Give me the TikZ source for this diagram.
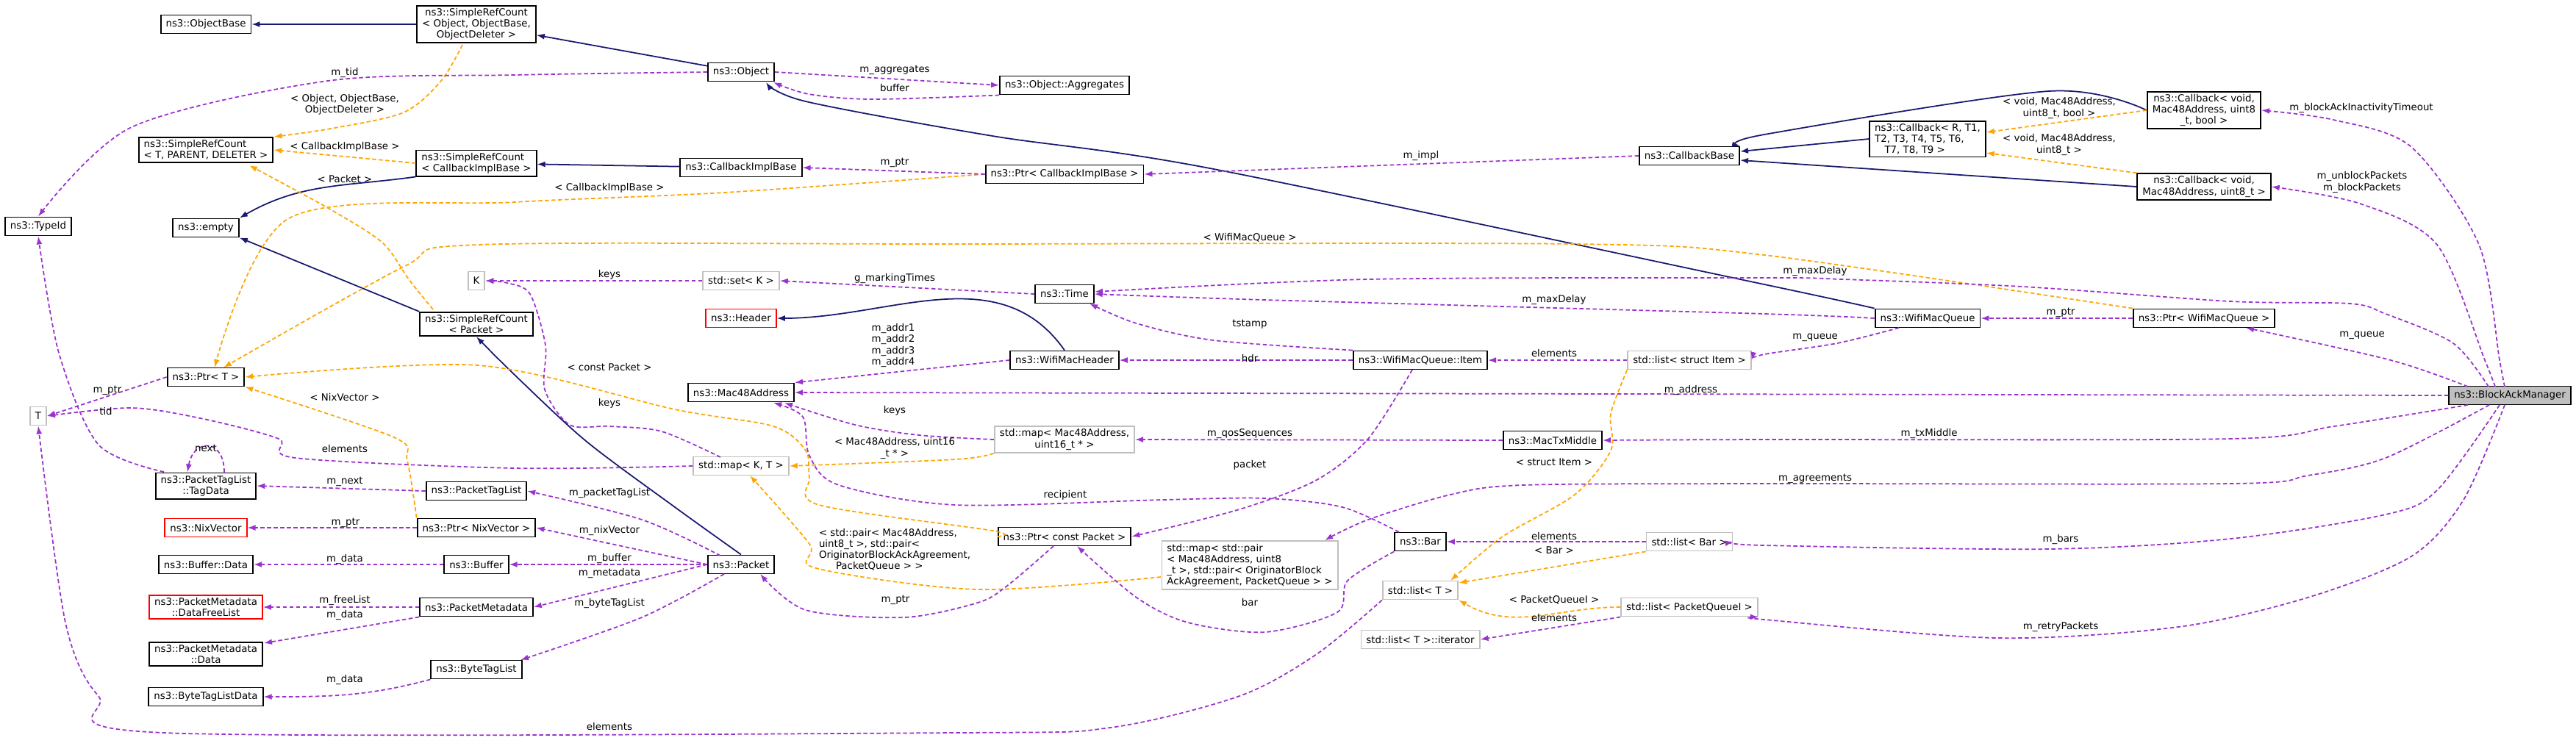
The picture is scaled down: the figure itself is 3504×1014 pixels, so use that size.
\documentclass[tikz,border=0pt]{standalone}
\usepackage{fontspec}
\setmainfont{DejaVu Sans}
\usetikzlibrary{arrows.meta,calc}
\definecolor{navyc}{RGB}{25,25,112}
\definecolor{purc}{RGB}{154,50,205}
\definecolor{orac}{RGB}{255,165,0}
\definecolor{greyc}{RGB}{191,191,191}
\tikzset{
  cls/.style={draw=black,line width=0.55pt,fill=white,inner xsep=0.7mm,inner ysep=0.35mm,minimum height=2.5mm,align=center,font=\fontsize{3.8}{4.3}\selectfont},
  ext/.style={cls,draw=greyc},
  undoc/.style={cls,draw=red},
  lbl/.style={inner sep=0pt,align=center,font=\fontsize{3.8}{4.3}\selectfont},
  inh/.style={navyc,line width=0.5pt,->,>={Latex[length=1.1mm,width=0.8mm]}},
  tpl/.style={orac,line width=0.5pt,dash pattern=on 0.55mm off 0.35mm,->,>={Latex[length=1.1mm,width=0.8mm]}},
  mem/.style={purc,line width=0.5pt,dash pattern=on 0.55mm off 0.35mm,->,>={Latex[length=1.1mm,width=0.8mm]}}
}
\begin{document}
\begin{tikzpicture}[x=0.1mm,y=-0.1mm]
	\useasboundingbox (0,0) rectangle (3504,1014);
	% classes
	\node[cls] (objbase) at (280,33) {ns3::ObjectBase};
	\node[cls] (srcobj) at (648,33) {ns3::SimpleRefCount\\< Object, ObjectBase,\\ ObjectDeleter >};
	\node[cls] (object) at (1008,98) {ns3::Object};
	\node[cls] (aggr) at (1448,116) {ns3::Object::Aggregates};
	\node[cls,align=left] (srctpd) at (280,204) {ns3::SimpleRefCount\\< T, PARENT, DELETER >};
	\node[cls,align=left] (srccb) at (648,222) {ns3::SimpleRefCount\\< CallbackImplBase >};
	\node[cls] (cbimpl) at (1008,228) {ns3::CallbackImplBase};
	\node[cls] (ptrcb) at (1448,237) {ns3::Ptr< CallbackImplBase >};
	\node[cls] (cbbase) at (2298,212) {ns3::CallbackBase};
	\node[cls,align=left] (cbgen) at (2622,189) {ns3::Callback< R, T1,\\T2, T3, T4, T5, T6,\\ \quad T7, T8, T9 >};
	\node[cls] (cbbool) at (2998,150) {ns3::Callback< void,\\ Mac48Address, uint8\\\_t, bool >};
	\node[cls] (cbuint) at (2998,254) {ns3::Callback< void,\\ Mac48Address, uint8\_t >};
	\node[cls] (typeid) at (52,308) {ns3::TypeId};
	\node[cls] (empty) at (280,310) {ns3::empty};
	\node[ext] (kk) at (648,382) {K};
	\node[ext] (setk) at (1008,382) {std::set< K >};
	\node[cls] (srcpkt) at (648,441) {ns3::SimpleRefCount\\< Packet >};
	\node[undoc] (header) at (1008,433) {ns3::Header};
	\node[cls] (time) at (1448,400) {ns3::Time};
	\node[cls] (wmq) at (2622,433) {ns3::WifiMacQueue};
	\node[cls] (ptrwmq) at (2998,433) {ns3::Ptr< WifiMacQueue >};
	\node[cls] (ptrt) at (280,513) {ns3::Ptr< T >};
	\node[ext] (tt) at (52,566) {T};
	\node[cls] (mac) at (1008,534) {ns3::Mac48Address};
	\node[cls] (wmh) at (1448,490) {ns3::WifiMacHeader};
	\node[cls] (item) at (1932,490) {ns3::WifiMacQueue::Item};
	\node[ext] (listitem) at (2298,490) {std::list< struct Item >};
	\node[cls] (tagdata) at (280,661) {ns3::PacketTagList\\::TagData};
	\node[ext] (mapkt) at (1008,634) {std::map< K, T >};
	\node[ext] (mapseq) at (1448,598) {std::map< Mac48Address,\\ uint16\_t * >};
	\node[cls] (mactx) at (2112,599) {ns3::MacTxMiddle};
	\node[cls] (ptl) at (648,668) {ns3::PacketTagList};
	\node[undoc] (nix) at (280,718) {ns3::NixVector};
	\node[cls] (ptrnix) at (648,718) {ns3::Ptr< NixVector >};
	\node[cls] (bufdata) at (280,768) {ns3::Buffer::Data};
	\node[cls] (buffer) at (648,768) {ns3::Buffer};
	\node[cls] (packet) at (1008,768) {ns3::Packet};
	\node[cls] (ptrcp) at (1448,730) {ns3::Ptr< const Packet >};
	\node[ext,align=left] (mapagr) at (1700,769) {std::map< std::pair\\< Mac48Address, uint8\\\_t >, std::pair< OriginatorBlock\\AckAgreement, PacketQueue > >};
	\node[cls] (bar) at (1932,737) {ns3::Bar};
	\node[ext] (listbar) at (2298,737) {std::list< Bar >};
	\node[ext] (listt) at (1932,803) {std::list< T >};
	\node[ext] (listpq) at (2298,826) {std::list< PacketQueueI >};
	\node[ext] (iter) at (1932,870) {std::list< T >::iterator};
	\node[undoc] (freelist) at (280,826) {ns3::PacketMetadata\\::DataFreeList};
	\node[cls] (pm) at (648,826) {ns3::PacketMetadata};
	\node[cls] (pmdata) at (280,890) {ns3::PacketMetadata\\::Data};
	\node[cls] (btl) at (648,911) {ns3::ByteTagList};
	\node[cls] (btld) at (280,948) {ns3::ByteTagListData};
	\node[cls,fill=greyc] (bam) at (3414,538) {ns3::BlockAckManager};
	% inheritance
	\draw[inh] (srcobj) -- (objbase);
	\draw[inh] (object) -- (srcobj);
	\draw[inh] (cbimpl) -- (srccb);
	\draw[inh] (srccb.south west) to[out=188,in=30] (empty.north east);
	\draw[inh] (srcpkt.north west) -- (empty.south east);
	\draw[inh] plot[smooth] coordinates {(packet.north) (918,690) (797,600) (700,510) (srcpkt.south)};
	\draw[inh] plot[smooth] coordinates {(wmq.north west) (2400,387) (1651,230) (1350,185) (1096,138) (1042,112)};
	\draw[inh] plot[smooth] coordinates {(cbbool.west) (2787,124) (2400,183) (cbbase.north east)};
	\draw[inh] (cbgen.west) -- ($(cbbase.east)+(0,-6)$);
	\draw[inh] (cbuint.west) -- ($(cbbase.east)+(0,6)$);
	\draw[inh] (wmh.north) to[out=125,in=0] (header.east);
	% templates
	\draw[tpl] plot[smooth] coordinates {(629,61) (600,110) (549,153) (450,175) (srctpd.north east)};
	\draw[tpl] (srccb.west) -- (srctpd.east);
	\draw[tpl] plot[smooth] coordinates {(589,421) (556,380) (520,330) (446,283) (339,225)};
	\draw[tpl] plot[smooth] coordinates {(ptrcb.west) (985,262) (700,275) (393,297) (292,500)};
	\draw[tpl] plot[smooth] coordinates {(ptrwmq.north west) (2400,347) (2142,332) (1300,332) (650,333) (549,363) (304,500)};
	\draw[tpl] plot[smooth] coordinates {(ptrcp.west) (1350,722) (1114,687) (1101,650) (1096,613) (1052,580) (918,557) (650,497) (ptrt.east)};
	\draw[tpl] plot[smooth] coordinates {(ptrnix.north west) (554,627) (536,595) (ptrt.south east)};
	\draw[tpl] plot[smooth] coordinates {(mapseq.south west) (1300,625) (mapkt.east)};
	\draw[tpl] plot[smooth] coordinates {(1579,785) (1330,802) (1110,773) (1101,740) (1020,647)};
	\draw[tpl] (cbbool.west) -- ($(cbgen.east)+(0,-9)$);
	\draw[tpl] (cbuint.north west) -- ($(cbgen.east)+(0,19)$);
	\draw[tpl] plot[smooth] coordinates {(listitem.south west) (2191,563) (2191,613) (2142,673) (2044,730) (1973,790)};
	\draw[tpl] (listbar.south west) -- ($(listt.east)+(0,-10)$);
	\draw[tpl] (listpq.west) to[out=180,in=-30] (listt.south east);
	% members
	\draw[mem] plot[smooth] coordinates {(object.west) (700,102) (446,110) (179,173) (typeid.north)};
	\draw[mem] (object.east) -- (aggr.west);
	\draw[mem] plot[smooth] coordinates {(aggr.south west) (1186,135) (1100,128) (1052,112)};
	\draw[mem] (ptrcb.west) -- (cbimpl.east);
	\draw[mem] (cbbase.west) -- (ptrcb.east);
	\draw[mem] (setk) -- (kk);
	\draw[mem] (time.west) -- (setk.east);
	\draw[mem] (ptrt.west) -- (tt.east);
	\draw[mem] plot[smooth] coordinates {(223,642) (134,605) (80,480) (typeid.south)};
	\draw[mem] ($(tagdata.north)+(25,0)$) to[out=90,in=80,looseness=2.4] ($(tagdata.north)+(-25,0)$);
	\draw[mem] plot[smooth] coordinates {(mapkt.west) (700,637) (402,623) (379,597) (277,570) (179,555) (tt.east)};
	\draw[mem] plot[smooth] coordinates {(980,622) (900,587) (829,580) (775,578) (741,530) (742,470) (721,400) (690,385) (kk.east)};
	\draw[mem] plot[smooth] coordinates {(mapseq.west) (1250,592) (1163,578) (1067,548)};
	\draw[mem] plot[smooth] coordinates {(1903,724) (1826,690) (1721,678) (1581,680) (1300,687) (1141,660) (1101,620) (1092,567) (1052,548)};
	\draw[mem] (wmh.west) -- (mac.north east);
	\draw[mem] (bam.west) -- (mac.east);
	\draw[mem] (item.west) -- (wmh.east);
	\draw[mem] plot[smooth] coordinates {(item.north west) (1651,463) (1546,440) (1482,413)};
	\draw[mem] plot[smooth] coordinates {(1921,503) (1861,597) (1791,653) (1686,693) (ptrcp.east)};
	\draw[mem] (listitem.west) -- (item.east);
	\draw[mem] plot[smooth] coordinates {(2583,446) (2499,467) (2400,482) (listitem.east)};
	\draw[mem] plot[smooth] coordinates {(wmq.west) (2400,427) (1721,408) (time.east)};
	\draw[mem] plot[smooth] coordinates {(3385,526) (3337,467) (3245,427) (3196,413) (3034,410) (2752,390) (2506,380) (2400,378) (1861,380) (1489,397)};
	\draw[mem] (ptrwmq.west) -- (wmq.east);
	\draw[mem] plot[smooth] coordinates {(3357,526) (3252,490) (3055,446)};
	\draw[mem] plot[smooth] coordinates {(3407,526) (3400,490) (3372,333) (3280,200) (3174,163) (cbbool.east)};
	\draw[mem] plot[smooth] coordinates {(3394,526) (3380,490) (3315,333) (3210,277) (cbuint.east)};
	\draw[mem] (mactx.west) -- (mapseq.east);
	\draw[mem] plot[smooth] coordinates {(3357,551) (3175,580) (3034,597) (2400,598) (mactx.east)};
	\draw[mem] plot[smooth] coordinates {(3386,551) (3245,623) (3139,647) (3034,658) (2400,658) (2072,660) (1973,673) (1861,707) (1802,735)};
	\draw[mem] plot[smooth] coordinates {(3400,551) (3315,667) (3245,700) (3034,733) (2787,747) (2400,742) (listbar.east)};
	\draw[mem] plot[smooth] coordinates {(3407,551) (3351,680) (3280,757) (3139,813) (2963,853) (2717,868) (2400,843) (listpq.south east)};
	\draw[mem] (listbar.west) -- (bar.east);
	\draw[mem] plot[smooth] coordinates {(bar.south west) (1833,790) (1819,833) (1721,860) (1616,847) (1546,813) (1465,743)};
	\draw[mem] plot[smooth] coordinates {(1433,743) (1370,797) (1330,820) (1230,840) (1096,830) (1034,781)};
	\draw[mem] (listpq.south west) -- (iter.east);
	\draw[mem] plot[smooth] coordinates {(listt.south west) (1791,890) (1686,947) (1510,990) (1300,997) (223,997) (134,947) (89,847) (tt.south)};
	\draw[mem] (ptl.west) -- (tagdata.east);
	\draw[mem] (ptrnix.west) -- (nix.east);
	\draw[mem] (buffer.west) -- (bufdata.east);
	\draw[mem] (pm.west) -- (freelist.east);
	\draw[mem] (pm.south west) -- (359,875);
	\draw[mem] (btl.south west) to[out=195,in=0] (btld.east);
	\draw[mem] plot[smooth] coordinates {(980,756) (873,707) (ptl.east)};
	\draw[mem] (packet.west) -- (ptrnix.east);
	\draw[mem] (packet.west) -- (buffer.east);
	\draw[mem] (packet.west) -- (pm.east);
	\draw[mem] plot[smooth] coordinates {(985,781) (873,840) (708,898)};
	% labels
	\node[lbl] (lobj) at (469,142) {< Object, ObjectBase,\\ObjectDeleter >};
	\node[lbl] (lcb1) at (469,200) {< CallbackImplBase >};
	\node[lbl] (lpkt) at (469,244) {< Packet >};
	\node[lbl] (lcb2) at (829,256) {< CallbackImplBase >};
	\node[lbl] (lwmq) at (1700,323) {< WifiMacQueue >};
	\node[lbl] (lcp) at (829,499) {< const Packet >};
	\node[lbl] (lnix) at (469,541) {< NixVector >};
	\node[lbl] (lmu) at (1217,610) {< Mac48Address, uint16\\\_t * >};
	\node[lbl,align=left] (lpair) at (1217,748) {< std::pair< Mac48Address,\\uint8\_t >, std::pair<\\OriginatorBlockAckAgreement,\\\hspace{2.3mm}PacketQueue > >};
	\node[lbl] (lvb) at (2801,147) {< void, Mac48Address,\\uint8\_t, bool >};
	\node[lbl] (lvu) at (2801,197) {< void, Mac48Address,\\uint8\_t >};
	\node[lbl] (lsi) at (2114,629) {< struct Item >};
	\node[lbl] (lbr) at (2114,749) {< Bar >};
	\node[lbl] (lpq) at (2114,816) {< PacketQueueI >};
	\node[lbl] (ltid) at (469,99) {m\_tid};
	\node[lbl] (lagg) at (1217,95) {m\_aggregates};
	\node[lbl] (lbuf) at (1217,120) {buffer};
	\node[lbl] (lptr1) at (1217,221) {m\_ptr};
	\node[lbl] (limpl) at (1933,212) {m\_impl};
	\node[lbl] (lkeys1) at (829,374) {keys};
	\node[lbl] (lgmt) at (1217,379) {g\_markingTimes};
	\node[lbl] (lptr2) at (146,531) {m\_ptr};
	\node[lbl] (ltid2) at (144,559) {tid};
	\node[lbl] (lnext) at (280,610) {next};
	\node[lbl] (lel1) at (469,610) {elements};
	\node[lbl] (lkeys2) at (829,549) {keys};
	\node[lbl] (lkeys3) at (1217,559) {keys};
	\node[lbl] (lrec) at (1449,674) {recipient};
	\node[lbl] (laddr) at (1215,470) {m\_addr1\\m\_addr2\\m\_addr3\\m\_addr4};
	\node[lbl] (lmaddr) at (2300,531) {m\_address};
	\node[lbl] (lhdr) at (1700,487) {hdr};
	\node[lbl] (lts) at (1700,441) {tstamp};
	\node[lbl] (lpk) at (1700,633) {packet};
	\node[lbl] (lel2) at (2114,480) {elements};
	\node[lbl] (lq1) at (2469,459) {m\_queue};
	\node[lbl] (lmd1) at (2114,408) {m\_maxDelay};
	\node[lbl] (lmd2) at (2469,369) {m\_maxDelay};
	\node[lbl] (lptr3) at (2803,425) {m\_ptr};
	\node[lbl] (lq2) at (3213,456) {m\_queue};
	\node[lbl] (lbait) at (3212,147) {m\_blockAckInactivityTimeout};
	\node[lbl] (lubp) at (3213,248) {m\_unblockPackets\\m\_blockPackets};
	\node[lbl] (lqos) at (1700,590) {m\_qosSequences};
	\node[lbl] (ltxm) at (2624,590) {m\_txMiddle};
	\node[lbl] (lagr) at (2469,651) {m\_agreements};
	\node[lbl] (lbars) at (2803,734) {m\_bars};
	\node[lbl] (lretry) at (2803,853) {m\_retryPackets};
	\node[lbl] (lel3) at (2114,729) {elements};
	\node[lbl] (lbar) at (1700,819) {bar};
	\node[lbl] (lptr4) at (1218,816) {m\_ptr};
	\node[lbl] (lel4) at (2114,840) {elements};
	\node[lbl] (lel5) at (829,988) {elements};
	\node[lbl] (lnx) at (469,655) {m\_next};
	\node[lbl] (lptr5) at (470,711) {m\_ptr};
	\node[lbl] (ldat1) at (469,761) {m\_data};
	\node[lbl] (lfl) at (469,817) {m\_freeList};
	\node[lbl] (ldat2) at (469,837) {m\_data};
	\node[lbl] (ldat3) at (469,925) {m\_data};
	\node[lbl] (lptl) at (829,671) {m\_packetTagList};
	\node[lbl] (lnv) at (829,722) {m\_nixVector};
	\node[lbl] (lbf) at (829,760) {m\_buffer};
	\node[lbl] (lmeta) at (829,780) {m\_metadata};
	\node[lbl] (lbtl) at (829,821) {m\_byteTagList};
\end{tikzpicture}
\end{document}
